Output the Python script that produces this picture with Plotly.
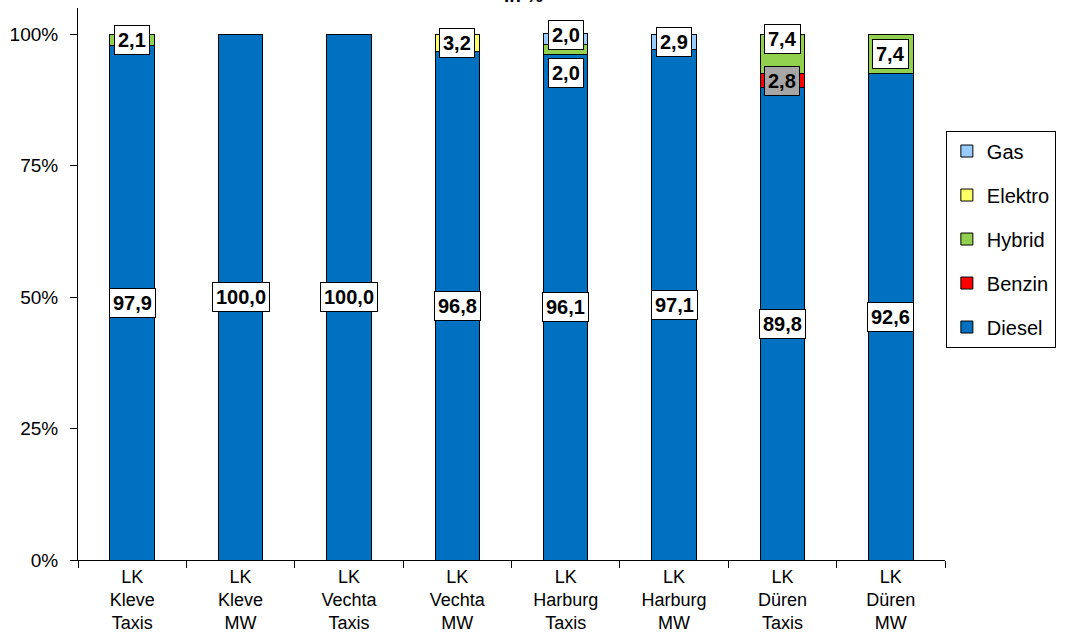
import plotly.graph_objects as go

# Antriebsarten je Landkreis und Flottentyp (Anteile in %)
categories = [
    "LK<br>Kleve<br>Taxis", "LK<br>Kleve<br>MW",
    "LK<br>Vechta<br>Taxis", "LK<br>Vechta<br>MW",
    "LK<br>Harburg<br>Taxis", "LK<br>Harburg<br>MW",
    "LK<br>Düren<br>Taxis", "LK<br>Düren<br>MW",
]
diesel = [97.9, 100.0, 100.0, 96.8, 96.1, 97.1, 89.8, 92.6]
benzin = [None, None, None, None, None, None, 2.8, None]
hybrid = [2.1, None, None, None, 2.0, None, 7.4, 7.4]
elektro = [None, None, None, 3.2, None, None, None, None]
gas = [None, None, None, None, 2.0, 2.9, None, None]

y_tick_values = [0, 25, 50, 75, 100]
y_tick_labels = ["0%", "25%", "50%", "75%", "100%"]

series = [
    ("Diesel", diesel, "#0070C0", "white"),
    ("Benzin", benzin, "#FF0000", "#A6A6A6"),
    ("Hybrid", hybrid, "#92D050", "white"),
    ("Elektro", elektro, "#FFFF66", "white"),
    ("Gas", gas, "#99CCFF", "white"),
]

# manual nudges (pixels) for labels that would otherwise overlap
label_shift = {
    ("Hybrid", 4): -23,
    ("Hybrid", 6): 15,
    ("Gas", 4): 4,
}

FONT = "Liberation Sans, Arial, sans-serif"

fig = go.Figure()
annotations = []
base = [0.0] * len(categories)

for rank, (name, values, color, label_bg) in enumerate(series):
    fig.add_trace(go.Bar(
        name=name,
        x=categories,
        y=values,
        marker=dict(color=color, line=dict(color="black", width=1)),
        width=0.41,
        legendgroup=name,
        legendrank=1000 - rank,  # top of the stack listed first
    ))
    for i, v in enumerate(values):
        if v is None:
            continue
        center = base[i] + v / 2
        annotations.append(dict(
            x=categories[i], y=center, xref="x", yref="y",
            text="<b>" + f"{v:.1f}".replace(".", ",") + "</b>",
            showarrow=False,
            font=dict(family=FONT, size=20, color="black"),
            bgcolor=label_bg,
            bordercolor="black",
            borderwidth=1,
            borderpad=3,
            yshift=label_shift.get((name, i), 0),
        ))
        base[i] += v

annotations.append(dict(
    x=0.5, y=1, xref="paper", yref="paper",
    xanchor="center", yanchor="bottom",
    xshift=12, yshift=0,
    text="<b>in %</b>", showarrow=False,
    font=dict(family=FONT, size=19, color="black"),
))

fig.update_layout(
    barmode="stack",
    width=1081,
    height=638,
    margin=dict(l=78, r=136, t=8, b=78),
    paper_bgcolor="white",
    plot_bgcolor="white",
    font=dict(family=FONT, size=19, color="black"),
    annotations=annotations,
    legend=dict(
        traceorder="grouped",
        x=1.001, xanchor="left",
        y=0.778, yanchor="top",
        bordercolor="black", borderwidth=1,
        bgcolor="white",
        font=dict(family=FONT, size=20, color="black"),
        tracegroupgap=15,
    ),
    xaxis=dict(
        showline=True, linecolor="black", linewidth=1,
        ticks="outside", ticklen=7, tickcolor="black",
        tickson="boundaries",
        showgrid=False,
        automargin=False,
        tickfont=dict(family=FONT, size=18),
    ),
    yaxis=dict(
        range=[0, 105],
        tickvals=y_tick_values,
        ticktext=y_tick_labels,
        showline=True, linecolor="black", linewidth=1,
        ticks="outside", ticklen=7, tickcolor="black",
        ticklabelstandoff=8,
        showgrid=False, zeroline=False,
        automargin=False,
        tickfont=dict(family=FONT, size=19),
    ),
)

fig.write_html("out.html")
